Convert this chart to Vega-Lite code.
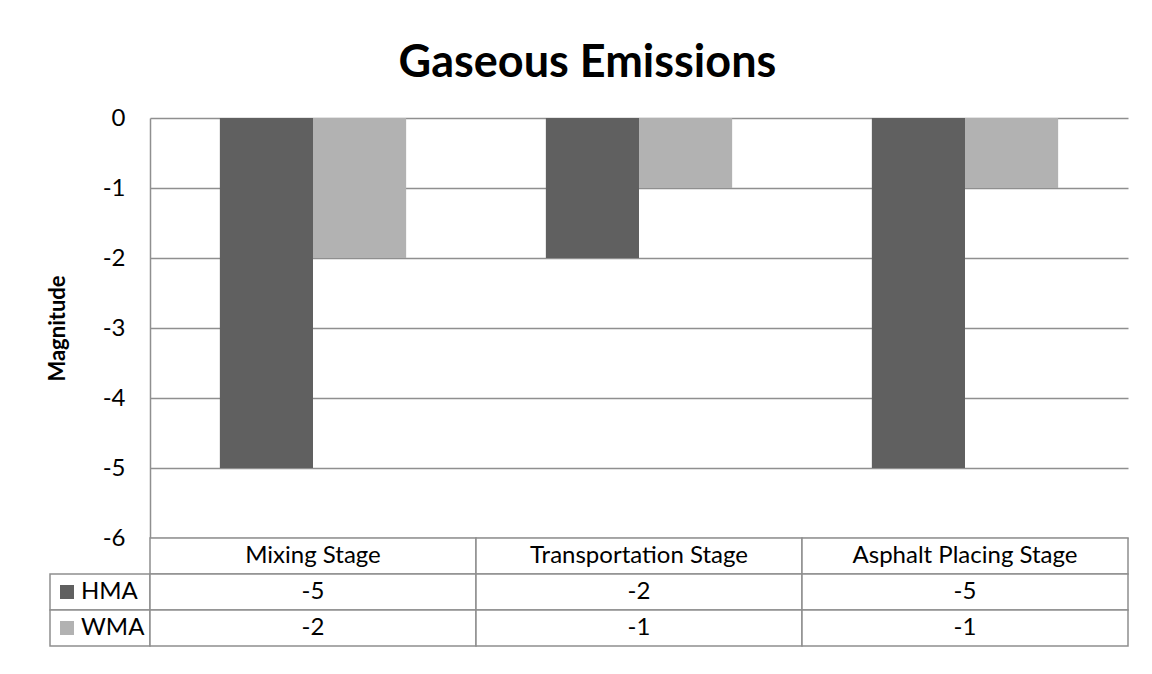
{
  "$schema": "https://vega.github.io/schema/vega-lite/v6.json",
  "background": "white",
  "padding": {"left": 46, "top": 41, "right": 24, "bottom": 20},
  "title": {
    "text": "Gaseous Emissions",
    "font": "Lato",
    "fontSize": 45,
    "fontWeight": "bold",
    "color": "#000000",
    "anchor": "middle",
    "offset": 20
  },
  "datasets": {
    "emissions": [
      {"stage": "Mixing Stage", "series": "HMA", "value": -5},
      {"stage": "Mixing Stage", "series": "WMA", "value": -2},
      {"stage": "Transportation Stage", "series": "HMA", "value": -2},
      {"stage": "Transportation Stage", "series": "WMA", "value": -1},
      {"stage": "Asphalt Placing Stage", "series": "HMA", "value": -5},
      {"stage": "Asphalt Placing Stage", "series": "WMA", "value": -1}
    ],
    "stages": [
      {"stage": "Mixing Stage"},
      {"stage": "Transportation Stage"},
      {"stage": "Asphalt Placing Stage"}
    ],
    "series": [
      {"series": "HMA"},
      {"series": "WMA"}
    ]
  },
  "columns": 2,
  "spacing": 0,
  "bounds": "flush",
  "concat": [
    {
      "width": 100,
      "height": 420,
      "data": {"values": []},
      "mark": "rect"
    },
    {
      "width": 978,
      "height": 420,
      "data": {"name": "emissions"},
      "mark": {"type": "bar"},
      "encoding": {
        "x": {
          "field": "stage",
          "type": "nominal",
          "sort": ["Mixing Stage", "Transportation Stage", "Asphalt Placing Stage"],
          "scale": {"paddingInner": 0, "paddingOuter": 0},
          "axis": null
        },
        "xOffset": {
          "field": "series",
          "type": "nominal",
          "scale": {"paddingInner": 0, "paddingOuter": 0.75}
        },
        "y": {
          "field": "value",
          "type": "quantitative",
          "scale": {"domain": [-6, 0], "nice": false},
          "axis": {
            "title": "Magnitude",
            "values": [0, -1, -2, -3, -4, -5, -6],
            "labelExpr": "replace(datum.label, '\u2212', '-')",
            "grid": true,
            "gridColor": "#8f8f8f",
            "gridWidth": 1.5,
            "domainColor": "#8f8f8f",
            "domainWidth": 1.5,
            "ticks": false,
            "labelPadding": 25,
            "labelFont": "Lato",
            "labelFontSize": 24,
            "labelColor": "#000000",
            "titleFont": "Lato",
            "titleFontSize": 22,
            "titleFontWeight": "bold",
            "titleColor": "#000000",
            "titlePadding": 33
          }
        },
        "color": {
          "field": "series",
          "type": "nominal",
          "scale": {"domain": ["HMA", "WMA"], "range": ["#606060", "#b2b2b2"]},
          "legend": null
        }
      }
    },
    {
      "width": 100,
      "height": 108,
      "data": {"name": "series"},
      "encoding": {
        "y": {
          "field": "series",
          "type": "nominal",
          "scale": {"domain": ["Stage", "HMA", "WMA"], "paddingInner": 0, "paddingOuter": 0},
          "axis": null
        }
      },
      "layer": [
        {"mark": {"type": "rect", "fill": "white", "stroke": "#8f8f8f", "strokeWidth": 1.5}},
        {
          "mark": {"type": "point", "shape": "square", "filled": true, "size": 196, "opacity": 1, "xOffset": -33},
          "encoding": {
            "color": {
              "field": "series",
              "type": "nominal",
              "scale": {"domain": ["HMA", "WMA"], "range": ["#606060", "#b2b2b2"]},
              "legend": null
            }
          }
        },
        {
          "mark": {"type": "text", "align": "left", "dx": -19, "font": "Lato", "fontSize": 24, "color": "#000000"},
          "encoding": {"text": {"field": "series"}}
        }
      ]
    },
    {
      "width": 978,
      "height": 108,
      "layer": [
        {
          "data": {"name": "stages"},
          "mark": {"type": "rect", "fill": "white", "stroke": "#8f8f8f", "strokeWidth": 1.5},
          "encoding": {
            "x": {"field": "stage", "type": "nominal", "sort": ["Mixing Stage", "Transportation Stage", "Asphalt Placing Stage"], "scale": {"paddingInner": 0, "paddingOuter": 0}, "axis": null},
            "y": {"datum": "Stage", "type": "nominal", "scale": {"domain": ["Stage", "HMA", "WMA"], "paddingInner": 0, "paddingOuter": 0}, "axis": null}
          }
        },
        {
          "data": {"name": "stages"},
          "mark": {"type": "text", "font": "Lato", "fontSize": 24, "color": "#000000"},
          "encoding": {
            "x": {"field": "stage", "type": "nominal", "sort": ["Mixing Stage", "Transportation Stage", "Asphalt Placing Stage"], "axis": null},
            "y": {"datum": "Stage", "type": "nominal", "axis": null},
            "text": {"field": "stage"}
          }
        },
        {
          "data": {"name": "emissions"},
          "mark": {"type": "rect", "fill": "white", "stroke": "#8f8f8f", "strokeWidth": 1.5},
          "encoding": {
            "x": {"field": "stage", "type": "nominal", "sort": ["Mixing Stage", "Transportation Stage", "Asphalt Placing Stage"], "axis": null},
            "y": {"field": "series", "type": "nominal", "axis": null}
          }
        },
        {
          "data": {"name": "emissions"},
          "mark": {"type": "text", "font": "Lato", "fontSize": 24, "color": "#000000"},
          "encoding": {
            "x": {"field": "stage", "type": "nominal", "sort": ["Mixing Stage", "Transportation Stage", "Asphalt Placing Stage"], "axis": null},
            "y": {"field": "series", "type": "nominal", "axis": null},
            "text": {"field": "value", "type": "nominal"}
          }
        }
      ]
    }
  ],
  "config": {
    "view": {"stroke": null},
    "axis": {"labelFont": "Lato"}
  }
}
